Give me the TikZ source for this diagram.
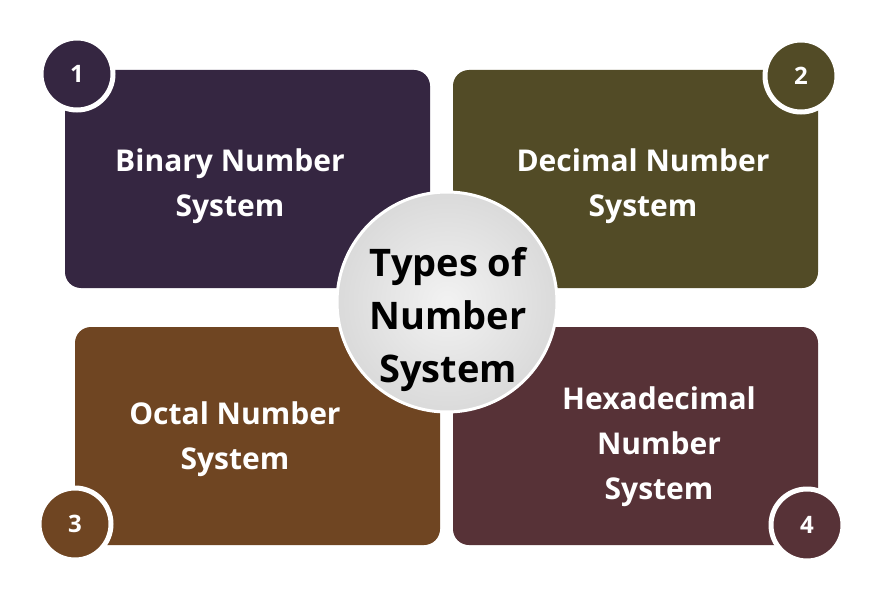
\documentclass[tikz,border=0pt]{standalone}
\usepackage{fontspec}
\setmainfont{Open Sans}
\definecolor{cA}{HTML}{352641}
\definecolor{cB}{HTML}{524B26}
\definecolor{cC}{HTML}{6F4522}
\definecolor{cD}{HTML}{573237}
\definecolor{cG}{HTML}{DADADA}
\definecolor{cL}{HTML}{F2F2F2}
\tikzset{
  box/.style={rounded corners=16pt},
  num/.style={circle, minimum size=72pt, inner sep=0pt, draw=white, line width=5pt, text=white, font=\fontsize{24}{24}\selectfont\bfseries},
  lbl/.style={text=white, align=center, font=\fontsize{30}{45}\selectfont\bfseries},
  hub/.style={circle, minimum size=220pt, inner sep=0pt, draw=white, line width=3pt, inner color=cL, outer color=cG},
  hubtxt/.style={align=center, font=\fontsize{38}{53}\selectfont\bfseries}
}
\begin{document}
\begin{tikzpicture}[x=1pt,y=-1pt]
\useasboundingbox (0,0) rectangle (880,604);
\fill[white] (0,0) rectangle (880,604);
\fill[cA, box] (65,70) rectangle (430,288);
\fill[cB, box] (453,70) rectangle (818,288);
\fill[cC, box] (75,327) rectangle (440,545);
\fill[cD, box] (453,327) rectangle (818,545);
\node[num, fill=cA] (n1) at (77,74) {1};
\node[num, fill=cB] (n2) at (801,76) {2};
\node[num, fill=cC] (n3) at (75,524) {3};
\node[num, fill=cD] (n4) at (807,525) {4};
\node[lbl] (t1) at (230,186) {Binary Number\\System};
\node[lbl] (t2) at (643,186) {Decimal Number\\System};
\node[lbl] (t3) at (235,439) {Octal Number\\System};
\node[lbl] (t4) at (659,447) {Hexadecimal\\Number\\System};
\node[hub] (hub) at (447,302) {};
\node[hubtxt] (hubt) at (448,320) {Types of\\Number\\System};
\end{tikzpicture}
\end{document}
